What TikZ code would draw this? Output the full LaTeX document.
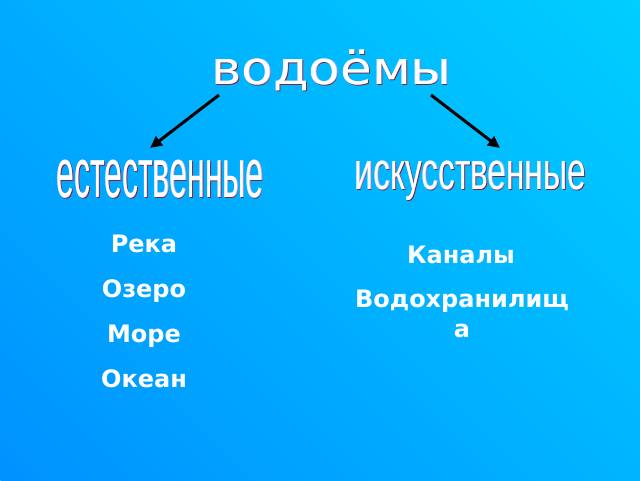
\documentclass[tikz,border=0pt]{standalone}
\usepackage{fontspec}
\setmainfont{DejaVu Sans}
\newfontfamily\libsans{Liberation Sans}
\usetikzlibrary{arrows.meta}
\definecolor{bgtop}{RGB}{0,206,255}
\definecolor{bgbot}{RGB}{0,146,255}
\definecolor{shadowred}{RGB}{135,30,60}
\definecolor{rimblue}{RGB}{175,180,230}
\tikzset{
  wa/.style={inner sep=0pt, outer sep=0pt},
  washadow/.style={wa, text=shadowred},
  warim/.style={wa, text=rimblue},
  wafront/.style={wa, text=white},
  item/.style={inner sep=0pt, text=white, anchor=base, font=\fontsize{24}{28}\selectfont\bfseries},
  arr/.style={line width=3pt, -{Triangle[length=12pt,width=11pt]}}
}
\newcommand\xbox[1]{\raisebox{0pt}[1ex][0pt]{#1}}
\newcommand\waTitle{\resizebox{240pt}{25pt}{\xbox{водоёмы}}}
\newcommand\waLeft{\resizebox{207pt}{38pt}{\xbox{\libsans естественные}}}
\newcommand\waRight{\resizebox{231pt}{29pt}{\xbox{\libsans искусственные}}}
\begin{document}
\begin{tikzpicture}[x=1pt,y=-1pt]
\useasboundingbox (0,0) rectangle (640,480);
% diagonal background gradient: dark at bottom left, light at top right
\begin{scope}
\clip (0,0) rectangle (640,480);
\foreach \i [evaluate=\i as \p using 100*\i/111, evaluate=\i as \a using 10*\i] in {0,...,111}{
  \fill[bgtop!\p!bgbot] (\a-490,-10) -- (\a+10,490) -- (\a+21,490) -- (\a-479,-10) -- cycle;
}
\end{scope}
% title
\node[washadow] (ts) at (332.5,72.7) {\waTitle};
\node[warim] (tr) at (331.9,72.0) {\waTitle};
\node[wafront] (t) at (331.5,71.5) {\waTitle};
% left heading
\node[washadow] (ls) at (161,179.2) {\waLeft};
\node[warim] (lr) at (160.4,178.5) {\waLeft};
\node[wafront] (l) at (160,178) {\waLeft};
% right heading
\node[washadow] (rs) at (471.5,175.7) {\waRight};
\node[warim] (rr) at (470.9,175.0) {\waRight};
\node[wafront] (r) at (470.5,174.5) {\waRight};
% arrows
\coordinate (a1) at (219,95);
\coordinate (a2) at (150,148);
\coordinate (b1) at (431,95);
\coordinate (b2) at (500,148);
\draw[arr] (a1) -- (a2);
\draw[arr] (b1) -- (b2);
% left list
\node[item] (i1) at (144,252) {Река};
\node[item] (i2) at (144,297) {Озеро};
\node[item] (i3) at (144,342) {Море};
\node[item] (i4) at (144,387) {Океан};
% right list
\node[item] (j1) at (461,263) {Каналы};
\node[item] (j2) at (462,307) {Водохранилищ};
\node[item] (j3) at (462,337) {а};
\end{tikzpicture}
\end{document}
